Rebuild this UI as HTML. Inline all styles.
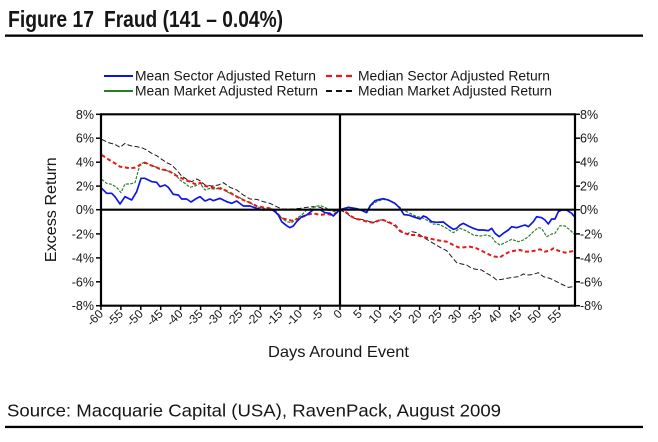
<!DOCTYPE html>
<html>
<head>
<meta charset="utf-8">
<style>
  html, body { margin:0; padding:0; background:#fff; }
  body { width:658px; height:442px; overflow:hidden; }
  svg { display:block; }
  text { font-family: "Liberation Sans", Arial, sans-serif; fill:#161616; }
</style>
</head>
<body>
<svg width="658" height="442" viewBox="0 0 658 442" xmlns="http://www.w3.org/2000/svg">
  <rect x="0" y="0" width="658" height="442" fill="#fff"/>

  <!-- Title -->
  <text x="8" y="27" font-size="23" font-weight="bold" textLength="86" lengthAdjust="spacingAndGlyphs">Figure 17</text>
  <text x="104" y="27" font-size="23" font-weight="bold" textLength="179" lengthAdjust="spacingAndGlyphs">Fraud (141 – 0.04%)</text>
  <rect x="5" y="34.5" width="638" height="2.3" fill="#000"/>

  <!-- Legend -->
  <line x1="104" y1="76" x2="133" y2="76" stroke="#0a14e8" stroke-width="2"/>
  <text x="135" y="80.6" font-size="13.5" textLength="181" lengthAdjust="spacingAndGlyphs">Mean Sector Adjusted Return</text>
  <line x1="326" y1="76" x2="355" y2="76" stroke="#e81818" stroke-width="2.2" stroke-dasharray="6 4"/>
  <text x="358" y="80.6" font-size="13.5" textLength="192" lengthAdjust="spacingAndGlyphs">Median Sector Adjusted Return</text>

  <line x1="104" y1="91" x2="133" y2="91" stroke="#2a7d2a" stroke-width="2"/>
  <text x="135" y="95.6" font-size="13.5" textLength="183" lengthAdjust="spacingAndGlyphs">Mean Market Adjusted Return</text>
  <line x1="326" y1="91" x2="355" y2="91" stroke="#111" stroke-width="2" stroke-dasharray="6 4"/>
  <text x="358" y="95.6" font-size="13.5" textLength="194" lengthAdjust="spacingAndGlyphs">Median Market Adjusted Return</text>

  <!-- Series (coordinates in 3x zoom frame) -->
  <g transform="translate(30,100) scale(0.333333)" fill="none" stroke-linejoin="round">
    <polyline stroke="#1a1a1a" stroke-width="3" stroke-dasharray="15 7"
      points="215,118 235,128 255,133 270,142 285,130 300,137 320,140 335,143 350,150 365,160 380,167 395,178 410,188 425,195 440,210 455,228 470,238 485,245 500,237 510,242 525,255 545,258 565,255 580,248 600,262 620,270 640,285 660,297 680,298 700,305 720,310 740,320 755,327 770,327 790,327 810,325 830,322 850,320 870,322 890,330 910,333 930,329 950,340 965,352 980,357 995,358 1010,362 1030,368 1045,360 1060,360 1080,370 1095,378 1110,395 1130,402 1145,395 1160,398 1175,408 1190,418 1210,430 1230,442 1250,452 1265,470 1280,488 1295,492 1310,495 1325,505 1340,508 1355,510 1370,520 1385,528 1400,540 1415,538 1430,535 1450,532 1465,530 1480,522 1495,525 1510,523 1525,518 1540,530 1560,535 1580,545 1600,555 1615,562 1630,560"/>
    <polyline stroke="#2a7d2a" stroke-width="3.5" stroke-dasharray="9 4"
      points="215,238 230,250 245,253 260,262 273,278 285,252 300,252 315,248 330,193 345,186 360,195 375,200 390,208 405,210 420,215 435,222 450,240 465,250 480,262 495,258 510,250 525,270 540,265 555,268 570,262 590,275 610,285 625,290 640,300 660,308 680,320 700,325 720,325 735,330 750,350 770,365 785,368 800,355 815,345 830,330 845,325 860,318 875,318 890,325 905,333 920,335 930,329 955,322 980,327 1010,335 1025,315 1040,305 1060,298 1080,302 1100,315 1120,330 1140,340 1160,350 1175,352 1190,360 1210,372 1230,374 1250,385 1270,398 1290,385 1310,393 1330,405 1350,408 1370,405 1385,410 1395,425 1410,435 1425,428 1445,418 1465,425 1480,420 1495,410 1510,395 1525,383 1535,385 1550,410 1565,402 1575,400 1590,377 1605,378 1620,390 1635,405"/>
    <polyline stroke="#e81818" stroke-width="6" stroke-dasharray="12 8"
      points="215,165 235,178 255,190 270,200 285,202 300,205 315,203 330,195 345,188 360,195 375,200 390,207 405,210 420,215 435,225 450,232 465,240 480,245 495,252 510,248 525,258 545,262 565,265 580,268 600,278 620,290 640,300 660,308 680,318 700,322 720,325 740,338 755,355 770,358 785,362 800,358 815,352 830,345 850,340 870,345 890,342 905,345 920,338 930,329 950,338 965,350 980,357 995,360 1010,365 1030,368 1045,362 1060,360 1080,368 1095,375 1110,392 1125,400 1140,405 1160,405 1175,410 1190,413 1210,418 1230,422 1250,425 1270,435 1285,442 1300,442 1320,440 1340,445 1360,455 1380,465 1395,470 1410,472 1425,462 1440,455 1455,452 1470,450 1485,455 1500,455 1515,452 1530,448 1545,455 1560,452 1570,445 1585,452 1605,458 1620,455 1635,452"/>
    <polyline stroke="#0a14e8" stroke-width="5"
      points="215,265 230,280 245,280 255,290 270,312 285,290 305,300 320,275 333,235 345,235 365,245 380,247 390,260 405,255 415,262 430,283 445,285 455,297 470,297 483,306 500,295 510,290 525,303 540,297 550,302 570,295 590,305 605,310 620,303 640,318 660,318 680,325 700,330 710,329 730,330 745,345 755,365 770,377 780,383 790,378 800,365 815,350 830,345 850,329 870,329 885,338 900,340 910,348 920,338 930,329 955,322 980,326 995,331 1010,338 1020,318 1035,302 1050,298 1060,296 1075,300 1095,310 1110,325 1122,344 1135,345 1155,352 1170,357 1180,348 1190,352 1205,365 1220,367 1240,366 1255,378 1270,388 1280,385 1290,375 1300,370 1315,378 1330,385 1345,390 1360,390 1375,392 1385,385 1395,400 1408,410 1420,400 1435,390 1445,380 1460,383 1475,378 1485,375 1495,380 1510,365 1520,350 1535,353 1545,360 1555,372 1565,357 1575,357 1585,335 1595,330 1610,330 1625,340 1635,352"/>
  </g>

  <!-- Plot frame and zero lines -->
  <g stroke="#000" stroke-width="2.2" fill="none">
    <line x1="101" y1="114.3" x2="575" y2="114.3"/>
    <line x1="101" y1="113.2" x2="101" y2="306.8"/>
    <line x1="575" y1="113.2" x2="575" y2="306.8"/>
    <line x1="100" y1="305.7" x2="576" y2="305.7"/>
    <line x1="101" y1="209.7" x2="575" y2="209.7"/>
    <line x1="340" y1="114.3" x2="340" y2="305.7"/>
  </g>

  <!-- Y ticks -->
  <g stroke="#000" stroke-width="1.5">
    <line x1="96" y1="114.3" x2="101" y2="114.3"/><line x1="575" y1="114.3" x2="580" y2="114.3"/>
    <line x1="96" y1="138.2" x2="101" y2="138.2"/><line x1="575" y1="138.2" x2="580" y2="138.2"/>
    <line x1="96" y1="162.2" x2="101" y2="162.2"/><line x1="575" y1="162.2" x2="580" y2="162.2"/>
    <line x1="96" y1="186.1" x2="101" y2="186.1"/><line x1="575" y1="186.1" x2="580" y2="186.1"/>
    <line x1="96" y1="209.7" x2="101" y2="209.7"/><line x1="575" y1="209.7" x2="580" y2="209.7"/>
    <line x1="96" y1="233.9" x2="101" y2="233.9"/><line x1="575" y1="233.9" x2="580" y2="233.9"/>
    <line x1="96" y1="257.9" x2="101" y2="257.9"/><line x1="575" y1="257.9" x2="580" y2="257.9"/>
    <line x1="96" y1="281.8" x2="101" y2="281.8"/><line x1="575" y1="281.8" x2="580" y2="281.8"/>
    <line x1="96" y1="305.7" x2="101" y2="305.7"/><line x1="575" y1="305.7" x2="580" y2="305.7"/>
  </g>

  <!-- Left Y labels -->
  <g font-size="12.5" text-anchor="end">
    <text x="94" y="118.8">8%</text>
    <text x="94" y="142.7">6%</text>
    <text x="94" y="166.7">4%</text>
    <text x="94" y="190.6">2%</text>
    <text x="94" y="214.2">0%</text>
    <text x="94" y="238.4">-2%</text>
    <text x="94" y="262.4">-4%</text>
    <text x="94" y="286.3">-6%</text>
    <text x="94" y="310.2">-8%</text>
  </g>
  <!-- Right Y labels -->
  <g font-size="12.5">
    <text x="580" y="118.8">8%</text>
    <text x="580" y="142.7">6%</text>
    <text x="580" y="166.7">4%</text>
    <text x="580" y="190.6">2%</text>
    <text x="580" y="214.2">0%</text>
    <text x="580" y="238.4">-2%</text>
    <text x="580" y="262.4">-4%</text>
    <text x="580" y="286.3">-6%</text>
    <text x="580" y="310.2">-8%</text>
  </g>

  <!-- X ticks -->
  <g stroke="#000" stroke-width="1.5">
    <line x1="101" y1="305.7" x2="101" y2="310"/>
    <line x1="120.9" y1="305.7" x2="120.9" y2="310"/>
    <line x1="140.8" y1="305.7" x2="140.8" y2="310"/>
    <line x1="160.7" y1="305.7" x2="160.7" y2="310"/>
    <line x1="180.6" y1="305.7" x2="180.6" y2="310"/>
    <line x1="200.6" y1="305.7" x2="200.6" y2="310"/>
    <line x1="220.5" y1="305.7" x2="220.5" y2="310"/>
    <line x1="240.4" y1="305.7" x2="240.4" y2="310"/>
    <line x1="260.3" y1="305.7" x2="260.3" y2="310"/>
    <line x1="280.2" y1="305.7" x2="280.2" y2="310"/>
    <line x1="300.1" y1="305.7" x2="300.1" y2="310"/>
    <line x1="320.1" y1="305.7" x2="320.1" y2="310"/>
    <line x1="340" y1="305.7" x2="340" y2="310"/>
    <line x1="359.9" y1="305.7" x2="359.9" y2="310"/>
    <line x1="379.8" y1="305.7" x2="379.8" y2="310"/>
    <line x1="399.7" y1="305.7" x2="399.7" y2="310"/>
    <line x1="419.6" y1="305.7" x2="419.6" y2="310"/>
    <line x1="439.6" y1="305.7" x2="439.6" y2="310"/>
    <line x1="459.5" y1="305.7" x2="459.5" y2="310"/>
    <line x1="479.4" y1="305.7" x2="479.4" y2="310"/>
    <line x1="499.3" y1="305.7" x2="499.3" y2="310"/>
    <line x1="519.2" y1="305.7" x2="519.2" y2="310"/>
    <line x1="539.1" y1="305.7" x2="539.1" y2="310"/>
    <line x1="559.1" y1="305.7" x2="559.1" y2="310"/>
  </g>

  <!-- X labels (rotated) -->
  <g font-size="12" text-anchor="end">
    <text transform="translate(104,314.5) rotate(-45)">-60</text>
    <text transform="translate(123.9,314.5) rotate(-45)">-55</text>
    <text transform="translate(143.8,314.5) rotate(-45)">-50</text>
    <text transform="translate(163.7,314.5) rotate(-45)">-45</text>
    <text transform="translate(183.6,314.5) rotate(-45)">-40</text>
    <text transform="translate(203.6,314.5) rotate(-45)">-35</text>
    <text transform="translate(223.5,314.5) rotate(-45)">-30</text>
    <text transform="translate(243.4,314.5) rotate(-45)">-25</text>
    <text transform="translate(263.3,314.5) rotate(-45)">-20</text>
    <text transform="translate(283.2,314.5) rotate(-45)">-15</text>
    <text transform="translate(303.1,314.5) rotate(-45)">-10</text>
    <text transform="translate(323.1,314.5) rotate(-45)">-5</text>
    <text transform="translate(343,314.5) rotate(-45)">0</text>
    <text transform="translate(362.9,314.5) rotate(-45)">5</text>
    <text transform="translate(382.8,314.5) rotate(-45)">10</text>
    <text transform="translate(402.7,314.5) rotate(-45)">15</text>
    <text transform="translate(422.6,314.5) rotate(-45)">20</text>
    <text transform="translate(442.6,314.5) rotate(-45)">25</text>
    <text transform="translate(462.5,314.5) rotate(-45)">30</text>
    <text transform="translate(482.4,314.5) rotate(-45)">35</text>
    <text transform="translate(502.3,314.5) rotate(-45)">40</text>
    <text transform="translate(522.2,314.5) rotate(-45)">45</text>
    <text transform="translate(542.1,314.5) rotate(-45)">50</text>
    <text transform="translate(562.1,314.5) rotate(-45)">55</text>
  </g>

  <!-- Axis titles -->
  <text x="338.5" y="357" font-size="16" text-anchor="middle" textLength="141" lengthAdjust="spacingAndGlyphs">Days Around Event</text>
  <text transform="translate(56,209.7) rotate(-90)" font-size="16" text-anchor="middle" textLength="105" lengthAdjust="spacingAndGlyphs">Excess Return</text>

  <!-- Source -->
  <text x="7" y="416.5" font-size="17.5" textLength="494" lengthAdjust="spacingAndGlyphs">Source: Macquarie Capital (USA), RavenPack, August 2009</text>
  <rect x="5" y="425.8" width="638" height="2.3" fill="#000"/>
</svg>
</body>
</html>
